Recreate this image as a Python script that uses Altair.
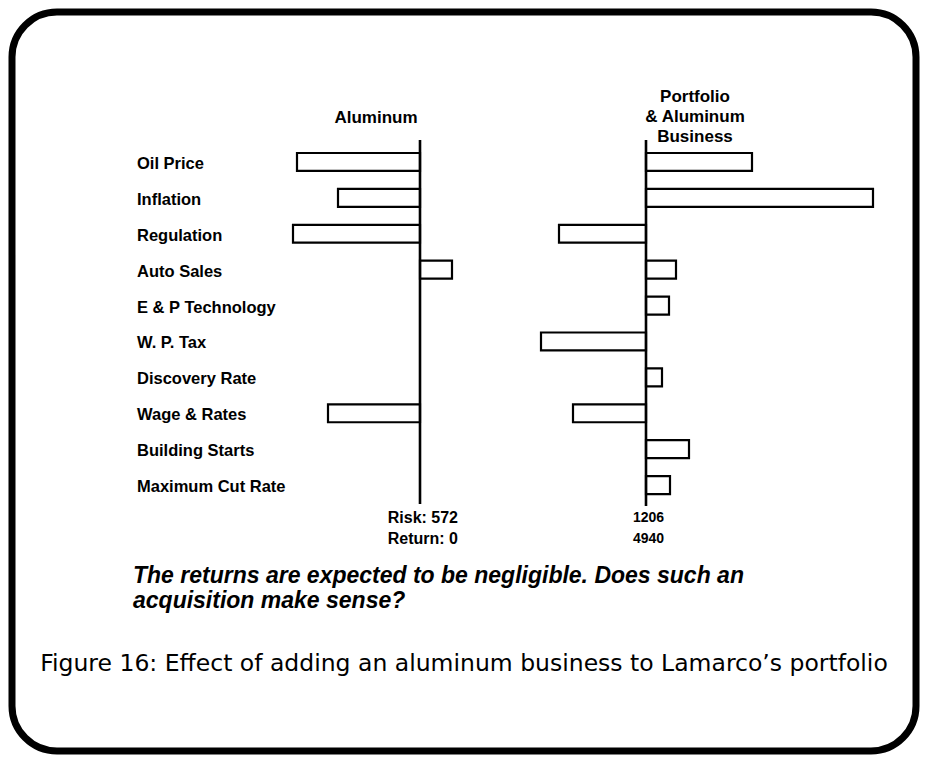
import altair as alt
import pandas as pd

factors = ["Oil Price", "Inflation", "Regulation", "Auto Sales", "E & P Technology",
           "W. P. Tax", "Discovery Rate", "Wage & Rates", "Building Starts", "Maximum Cut Rate"]
aluminum = [-123, -82, -127, 32, 0, 0, 0, -92, 0, 0]
portfolio = [106, 227, -87, 30, 23, -105, 16, -73, 43, 24]

title_left = ["Aluminum"]
title_right = ["Portfolio", "& Aluminum", "Business"]
stats_left = ["Risk: 572", "Return: 0"]
stats_right = ["1206", "4940"]
note_lines = ["The returns are expected to be negligible. Does such an", "acquisition make sense?"]
caption = ["Figure 16:  Effect of  adding an aluminum business to Lamarco\u2019s portfolio"]

FONT = "Liberation Sans"

df = pd.DataFrame({"factor": factors, "alu": aluminum, "port": portfolio})
zero_df = pd.DataFrame({"zero": [0]})

y_scale = alt.Scale(domain=factors, range=[132, 491], paddingInner=0.5, paddingOuter=0.25)
x_left = alt.Scale(domain=[-150, 50], range=[258, 458])
x_right = alt.Scale(domain=[-150, 250], range=[484, 884])

bar_style = dict(fill="white", stroke="black", strokeWidth=2.2)

bars_left = alt.Chart(df).transform_filter("datum.alu != 0").mark_bar(**bar_style).encode(
    x=alt.X("alu:Q", scale=x_left, axis=None),
    y=alt.Y("factor:N", scale=y_scale, axis=None, sort=factors),
)
rule_left = alt.Chart(zero_df).mark_rule(color="black", strokeWidth=2.6).encode(
    x=alt.X("zero:Q", scale=x_left, axis=None),
    y=alt.value(128), y2=alt.value(492),
)
left = alt.layer(bars_left, rule_left)

bars_right = alt.Chart(df).transform_filter("datum.port != 0").mark_bar(**bar_style).encode(
    x=alt.X("port:Q", scale=x_right, axis=None),
    y=alt.Y("factor:N", scale=y_scale, axis=None, sort=factors),
)
rule_right = alt.Chart(zero_df).mark_rule(color="black", strokeWidth=2.6).encode(
    x=alt.X("zero:Q", scale=x_right, axis=None),
    y=alt.value(128), y2=alt.value(494),
)
right = alt.layer(bars_right, rule_right)

labels = alt.Chart(df).mark_text(
    align="left", baseline="middle", font=FONT, fontSize=16.5, fontWeight="bold", dy=2
).encode(
    x=alt.value(125),
    y=alt.Y("factor:N", scale=y_scale, axis=None, sort=factors),
    text="factor:N",
)


def text_block(lines, x, y, size, lh, align="center", weight="bold", style="normal", font=FONT):
    d = pd.DataFrame({"t": ["\n".join(lines)]})
    return alt.Chart(d).mark_text(
        align=align, baseline="middle", font=font, fontSize=size, fontWeight=weight,
        fontStyle=style, lineBreak="\n", lineHeight=lh, color="black"
    ).encode(x=alt.value(x), y=alt.value(y), text="t:N")


t_left = text_block(title_left, 364, 106, 17, 20)
t_right = text_block(title_right, 683, 85, 17, 20)
s_left = text_block(stats_left, 446, 506, 16, 21, align="right")
s_right = text_block(stats_right, 636.5, 506, 14, 21)
note = text_block(note_lines, 121, 564, 23, 25, align="left", style="italic")
cap = text_block(caption, 452, 652, 23.5, 25, weight="normal", font="DejaVu Sans")

chart = alt.layer(
    left, right, labels, t_left, t_right, s_left, s_right, note, cap
).resolve_scale(x="independent").properties(
    width=904, height=739, padding=4, autosize="none", background="white"
).configure_view(
    stroke="black", strokeWidth=7, cornerRadius=45, fill="white"
)

chart.save("out.html", embed_options={"renderer": "svg", "actions": False})
